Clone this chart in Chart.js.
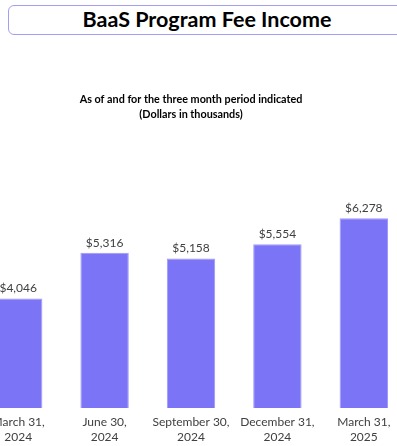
<!DOCTYPE html>
<html>
<head>
<meta charset="utf-8">
<script src="https://cdn.jsdelivr.net/npm/chart.js@4.4.1/dist/chart.umd.min.js"></script>
<style>
  html, body { margin: 0; padding: 0; background: #fff; overflow: hidden; }
  body { width: 397px; height: 446px; position: relative; }
  #titleBox {
    position: absolute; left: 8px; top: 5px; width: 398px; height: 30px;
    box-sizing: border-box; border: 1.5px solid #a39ff0; border-radius: 6px;
    font-family: Lato, sans-serif; font-weight: bold; font-size: 21.5px;
    line-height: 27px; text-align: center; color: #000;
  }
  #wrap { position: absolute; left: -25px; top: 0; width: 432px; height: 452px; }
</style>
</head>
<body>
<div id="titleBox">BaaS Program Fee Income</div>
<div id="wrap"><canvas id="feeChart"></canvas></div>
<script>
const categories = [
    ['March 31,', '2024'],
    ['June 30,', '2024'],
    ['September 30,', '2024'],
    ['December 31,', '2024'],
    ['March 31,', '2025']
];
const feeIncome = [4046, 5316, 5158, 5554, 6278];
const subtitleLines = ['As of and for the three month period indicated', '(Dollars in thousands)'];

// value labels on top of each bar
const barValues = {
    id: 'barValues',
    afterDatasetsDraw(chart) {
        const ctx = chart.ctx;
        const meta = chart.getDatasetMeta(0);
        ctx.save();
        ctx.font = '12px Lato, sans-serif';
        ctx.fillStyle = '#404040';
        ctx.textAlign = 'center';
        ctx.textBaseline = 'bottom';
        meta.data.forEach((bar, i) => {
            ctx.fillText('$' + feeIncome[i].toLocaleString('en-US'), bar.x, bar.y - 4);
        });
        ctx.restore();
    }
};

const chartCanvas = document.getElementById('feeChart').getContext('2d');

new Chart(chartCanvas, {
    type: 'bar',
    data: {
        labels: categories,
        datasets: [{
            label: 'BaaS Program Fee Income',
            data: feeIncome,
            backgroundColor: '#7b74f7',
            borderColor: '#9d98f8',
            borderWidth: 1,
            barPercentage: 0.56,
            categoryPercentage: 1
        }]
    },
    options: {
        responsive: true,
        maintainAspectRatio: false,
        animation: false,
        layout: { padding: 0 },
        plugins: {
            legend: { display: false },
            tooltip: { enabled: false },
            title: {
                display: true,
                text: subtitleLines,
                color: '#000',
                font: { family: 'Lato, sans-serif', size: 10.8, weight: 'bold', lineHeight: 1.4 },
                padding: { top: 92, bottom: 16 }
            }
        },
        scales: {
            x: {
                grid: { display: false, drawTicks: false },
                border: { display: false },
                ticks: {
                    color: '#404040',
                    padding: 7,
                    maxRotation: 0,
                    autoSkip: false,
                    font: { family: 'Lato, sans-serif', size: 12, lineHeight: 1.25 }
                }
            },
            y: {
                display: false,
                min: 1000,
                max: 8500
            }
        }
    },
    plugins: [barValues]
});
</script>
</body>
</html>
